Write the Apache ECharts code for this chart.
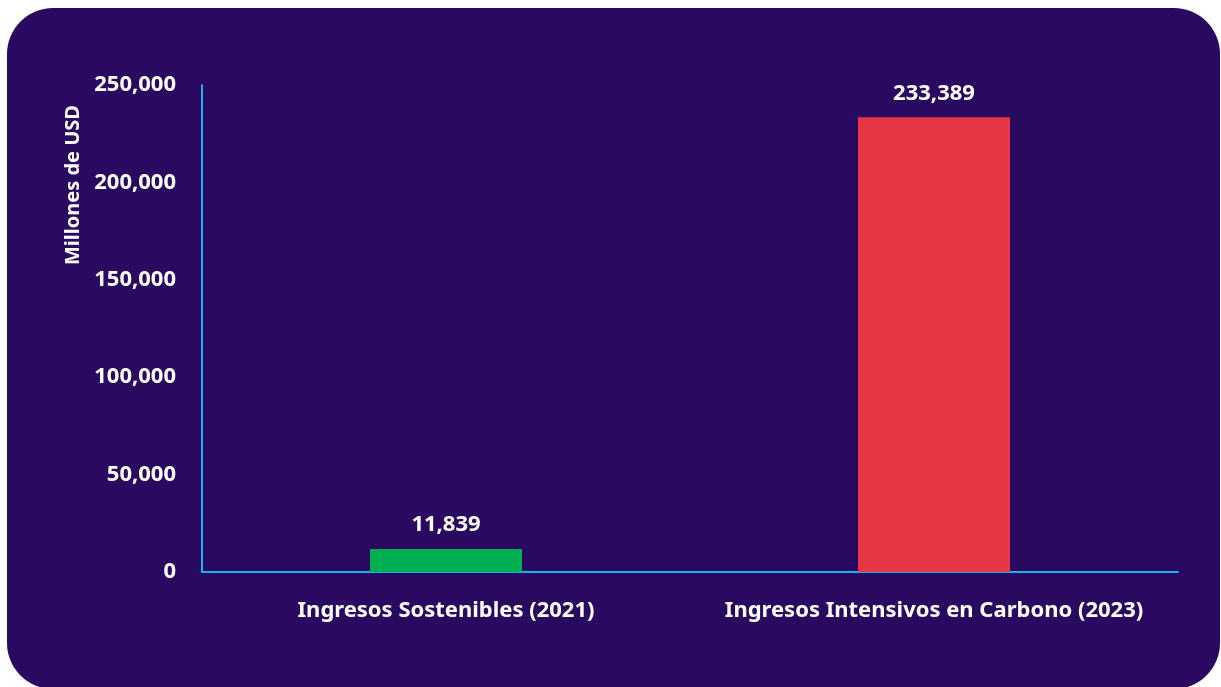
<!DOCTYPE html>
<html>
<head>
<meta charset="utf-8">
<script src="https://cdn.jsdelivr.net/npm/echarts@6/dist/echarts.min.js"></script>
<style>
  html, body { margin: 0; padding: 0; background: #ffffff; }
  #chart { width: 1221px; height: 687px; }
</style>
</head>
<body>
<div id="chart"></div>
<script>
// Revenue comparison, millions of USD
const categories = ['Ingresos Sostenibles (2021)', 'Ingresos Intensivos en Carbono (2023)'];
const values = [11839, 233389];
const barColors = ['#00b050', '#e83744'];
const axisTitle = 'Millones de USD';

const FONT = '"Noto Sans", sans-serif';
const chart = echarts.init(document.getElementById('chart'));

chart.setOption({
  backgroundColor: '#ffffff',
  animation: false,
  graphic: [
    {
      type: 'rect', z: -10, silent: true,
      shape: { x: 7, y: 8, width: 1213, height: 681, r: 46 },
      style: { fill: '#2a0a60' }
    },
    {
      type: 'text', silent: true,
      x: 73, y: 185, rotation: Math.PI / 2,
      style: {
        text: axisTitle, fill: '#ffffff', font: 'bold 20px ' + FONT,
        textAlign: 'center', textVerticalAlign: 'middle'
      }
    }
  ],
  grid: { left: 202, right: 43, top: 85, bottom: 115, containLabel: false },
  xAxis: {
    type: 'category',
    data: categories,
    axisLine: { lineStyle: { color: '#18b2ea', width: 2 } },
    axisTick: { show: false },
    axisLabel: { interval: 0, color: '#ffffff', fontFamily: FONT, fontWeight: 'bold', fontSize: 22, margin: 28 }
  },
  yAxis: {
    type: 'value',
    min: 0, max: 250000, interval: 50000,
    axisLine: { show: true, lineStyle: { color: '#18b2ea', width: 2 } },
    axisTick: { show: false },
    splitLine: { show: false },
    axisLabel: {
      color: '#ffffff', fontFamily: FONT, fontWeight: 'bold', fontSize: 22, margin: 26,
      padding: [4, 0, 0, 0],
      formatter: v => v.toLocaleString('en-US')
    }
  },
  series: [{
    type: 'bar',
    barWidth: 152,
    data: values.map((v, i) => ({ value: v, itemStyle: { color: barColors[i] } })),
    label: {
      show: true, position: 'top', distance: 13,
      color: '#ffffff', fontFamily: FONT, fontWeight: 'bold', fontSize: 22,
      formatter: p => p.value.toLocaleString('en-US')
    }
  }]
});
</script>
</body>
</html>
